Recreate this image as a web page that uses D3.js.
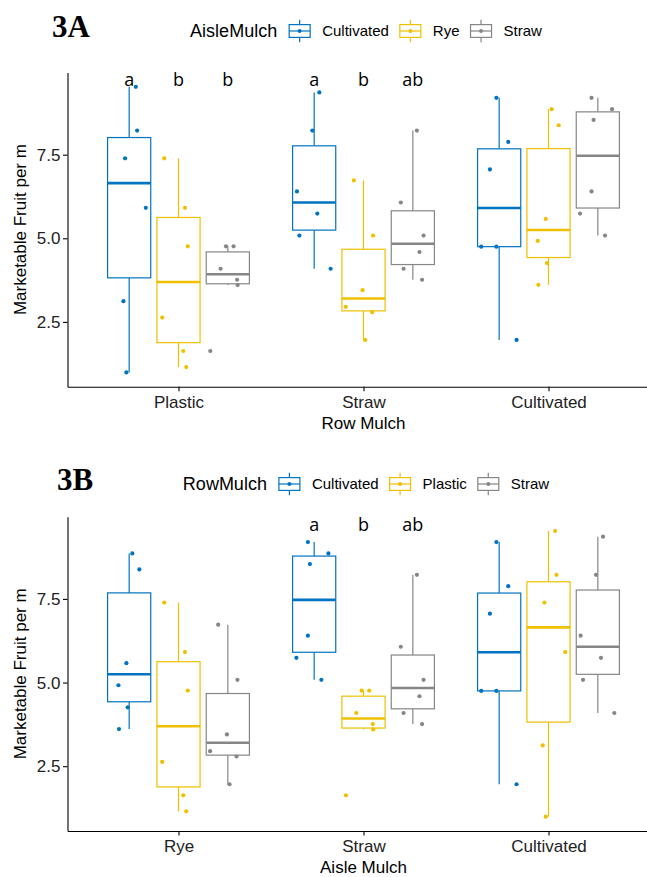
<!DOCTYPE html>
<html>
<head>
<meta charset="utf-8">
<script src="https://cdn.jsdelivr.net/npm/d3@7"></script>
<style>
body { margin: 0; background: #fff; }
text { font-family: "Liberation Sans", Arial, sans-serif; }
</style>
</head>
<body>
<div id="chart"></div>
<script>
var rowMulch = ["Plastic", "Straw", "Cultivated"];
var aisleMulch = ["Cultivated", "Rye", "Straw"];
var colors = ["#0073C2", "#EFC000", "#868686"];

// marketable fruit per m, 6 plots per combination, inner arrays follow aisleMulch order
var plasticFruit = [
    [9.53, 8.22, 7.39, 5.91, 3.12, 0.99],
    [7.39, 5.91, 4.76, 2.63, 1.63, 1.15],
    [4.76, 4.76, 4.09, 3.76, 3.60, 1.63]
];
var strawFruit = [
    [9.36, 8.22, 6.40, 5.74, 5.08, 4.09],
    [6.73, 5.08, 3.45, 2.95, 2.79, 1.96],
    [8.22, 6.07, 5.08, 4.59, 4.09, 3.76]
];
var cultivatedFruit = [
    [9.20, 7.88, 7.06, 4.75, 4.75, 1.96],
    [8.86, 8.38, 5.58, 4.92, 4.26, 3.61],
    [9.20, 8.86, 8.54, 6.40, 5.74, 5.08]
];

// horizontal jitter of every point, in category units (same for both plots)
var plasticJitter = [
    [0.036, 0.043, -0.022, 0.090, -0.031, -0.015],
    [-0.077, 0.035, 0.050, -0.088, 0.026, 0.042],
    [-0.010, 0.031, -0.039, 0.050, 0.053, -0.095]
];
var strawJitter = [
    [0.028, -0.010, -0.093, 0.017, -0.080, 0.089],
    [-0.052, 0.052, -0.005, -0.096, 0.047, 0.009],
    [0.022, -0.065, 0.058, 0.036, -0.050, 0.050]
];
var cultivatedJitter = [
    [-0.015, 0.049, -0.050, -0.097, -0.015, 0.094],
    [0.017, 0.055, -0.015, -0.058, -0.008, -0.055],
    [-0.034, 0.077, -0.023, -0.034, -0.096, 0.039]
];

var yTicks = [2.5, 5.0, 7.5];
var letterLevel = 9.73;
// letters per [x category][fill group]
var lettersA = [["a", "b", "b"], ["a", "b", "ab"], ["", "", ""]];
var lettersB = [["", "", ""], ["a", "b", "ab"], ["", "", ""]];

var width = 647;
var height = 877;

var fruitByRow = [plasticFruit, strawFruit, cultivatedFruit];
var jitterByRow = [plasticJitter, strawJitter, cultivatedJitter];
var obs = [];
rowMulch.forEach(function (r, i) {
    aisleMulch.forEach(function (a, j) {
        fruitByRow[i][j].forEach(function (v, k) {
            obs.push({row: r, aisle: a, value: v, jit: jitterByRow[i][j][k]});
        });
    });
});

var panels = [
    {tag: "3A", xKey: "row", xCats: ["Plastic", "Straw", "Cultivated"],
     gKey: "aisle", gCats: ["Cultivated", "Rye", "Straw"], legend: "AisleMulch",
     xTitle: "Row Mulch", letters: lettersA, top: 72.5, bottom: 386.7,
     tagX: 52, tagY: 37, legendY: 31},
    {tag: "3B", xKey: "aisle", xCats: ["Rye", "Straw", "Cultivated"],
     gKey: "row", gCats: ["Cultivated", "Plastic", "Straw"], legend: "RowMulch",
     xTitle: "Aisle Mulch", letters: lettersB, top: 516.7, bottom: 831,
     tagX: 57, tagY: 490, legendY: 484}
];

var left = 67.5;
var dodge = 0.8 / 3;
var boxW = 0.7 / 3;

var svg = d3.select("#chart").append("svg")
    .attr("width", width)
    .attr("height", height);

var x = d3.scaleLinear().domain([0.4, 3.6]).range([left, left + 3.2 * 185]);

var ext = d3.extent(obs, function (d) { return d.value; });
var pad = 0.05 * (ext[1] - ext[0]);

function boxStats(vals) {
    var s = vals.slice().sort(d3.ascending);
    var q1 = d3.quantile(s, 0.25), med = d3.quantile(s, 0.5), q3 = d3.quantile(s, 0.75);
    var iqr = q3 - q1;
    var lo = d3.min(s.filter(function (v) { return v >= q1 - 1.5 * iqr; }));
    var hi = d3.max(s.filter(function (v) { return v <= q3 + 1.5 * iqr; }));
    return {q1: q1, med: med, q3: q3, lo: lo, hi: hi};
}

panels.forEach(function (p) {
    var y = d3.scaleLinear().domain([ext[0] - pad, ext[1] + pad]).range([p.bottom, p.top]);
    var g = svg.append("g");

    // build one box per x category / fill group
    var boxes = [];
    p.xCats.forEach(function (xc, i) {
        p.gCats.forEach(function (gc, j) {
            var vals = obs.filter(function (d) { return d[p.xKey] === xc && d[p.gKey] === gc; })
                .map(function (d) { return d.value; });
            var b = boxStats(vals);
            b.cx = i + 1 + (j - 1) * dodge;
            b.color = colors[j];
            b.letter = p.letters[i][j];
            boxes.push(b);
        });
    });

    var bx = g.selectAll("g.box").data(boxes).enter().append("g").attr("class", "box");
    bx.append("line")
        .attr("x1", function (d) { return x(d.cx); })
        .attr("x2", function (d) { return x(d.cx); })
        .attr("y1", function (d) { return y(d.q3); })
        .attr("y2", function (d) { return y(d.hi); })
        .attr("stroke", function (d) { return d.color; })
        .attr("stroke-width", 1.2);
    bx.append("line")
        .attr("x1", function (d) { return x(d.cx); })
        .attr("x2", function (d) { return x(d.cx); })
        .attr("y1", function (d) { return y(d.q1); })
        .attr("y2", function (d) { return y(d.lo); })
        .attr("stroke", function (d) { return d.color; })
        .attr("stroke-width", 1.2);
    bx.append("rect")
        .attr("x", function (d) { return x(d.cx - boxW / 2); })
        .attr("width", function (d) { return x(d.cx + boxW / 2) - x(d.cx - boxW / 2); })
        .attr("y", function (d) { return y(d.q3); })
        .attr("height", function (d) { return y(d.q1) - y(d.q3); })
        .attr("fill", "white")
        .attr("stroke", function (d) { return d.color; })
        .attr("stroke-width", 1.2);
    bx.append("line")
        .attr("x1", function (d) { return x(d.cx - boxW / 2); })
        .attr("x2", function (d) { return x(d.cx + boxW / 2); })
        .attr("y1", function (d) { return y(d.med); })
        .attr("y2", function (d) { return y(d.med); })
        .attr("stroke", function (d) { return d.color; })
        .attr("stroke-width", 2.6);

    // jittered points
    g.selectAll("circle.pt").data(obs).enter().append("circle")
        .attr("class", "pt")
        .attr("cx", function (d) {
            var i = p.xCats.indexOf(d[p.xKey]), j = p.gCats.indexOf(d[p.gKey]);
            return x(i + 1 + (j - 1) * dodge + d.jit);
        })
        .attr("cy", function (d) { return y(d.value); })
        .attr("r", 2.1)
        .attr("fill", function (d) { return colors[p.gCats.indexOf(d[p.gKey])]; });

    // letters
    g.selectAll("text.letter").data(boxes.filter(function (d) { return d.letter; })).enter()
        .append("text")
        .attr("x", function (d) { return x(d.cx); })
        .attr("y", y(letterLevel))
        .attr("dy", "0.35em")
        .attr("text-anchor", "middle")
        .style("font-family", "'Open Sans', sans-serif")
        .style("font-size", "18px")
        .text(function (d) { return d.letter; });

    // axes
    var yAxis = g.append("g")
        .attr("transform", "translate(" + left + ",0)")
        .call(d3.axisLeft(y).tickValues(yTicks).tickFormat(d3.format(".1f")).tickSize(4.5).tickSizeOuter(0));
    var xAxis = g.append("g")
        .attr("transform", "translate(0," + p.bottom + ")")
        .call(d3.axisBottom(x).tickValues([1, 2, 3]).tickFormat(function (i) { return p.xCats[i - 1]; })
            .tickSize(4.5).tickSizeOuter(0));
    [yAxis, xAxis].forEach(function (a) {
        a.select(".domain").attr("stroke", "black").attr("stroke-width", 1.1);
        a.selectAll(".tick line").attr("stroke", "black").attr("stroke-width", 1.1);
        a.selectAll(".tick text").attr("fill", "#222")
            .style("font-family", "'Liberation Sans', Arial, sans-serif").style("font-size", "17px");
    });
    yAxis.selectAll(".tick text").attr("x", -7);
    xAxis.selectAll(".tick text").attr("y", 9);

    g.append("text")
        .attr("transform", "translate(26," + (p.top + p.bottom) / 2 + ") rotate(-90)")
        .attr("text-anchor", "middle")
        .style("font-size", "17px")
        .text("Marketable Fruit per m");
    g.append("text")
        .attr("x", x(2))
        .attr("y", p.bottom + 42)
        .attr("text-anchor", "middle")
        .style("font-size", "17px")
        .text(p.xTitle);

    // tag
    g.append("text")
        .attr("x", p.tagX)
        .attr("y", p.tagY)
        .style("font-family", "'Liberation Serif', 'Times New Roman', serif")
        .style("font-weight", "bold")
        .style("font-size", "31px")
        .text(p.tag);

    // legend
    var lg = g.append("g");
    var title = lg.append("text")
        .attr("y", p.legendY)
        .attr("dy", "0.35em")
        .style("font-size", "18px")
        .text(p.legend);
    var cx = title.node().getComputedTextLength() + 12;
    p.gCats.forEach(function (c, j) {
        var k = lg.append("g").attr("transform", "translate(" + cx + "," + p.legendY + ")");
        k.append("line").attr("x1", 10.5).attr("x2", 10.5).attr("y1", -11.3).attr("y2", 11.3)
            .attr("stroke", colors[j]).attr("stroke-width", 1.2);
        k.append("rect").attr("x", 0).attr("y", -6.4).attr("width", 21).attr("height", 12.8)
            .attr("fill", "white").attr("stroke", colors[j]).attr("stroke-width", 1.2);
        k.append("line").attr("x1", 0).attr("x2", 21).attr("y1", 0).attr("y2", 0)
            .attr("stroke", colors[j]).attr("stroke-width", 1.2);
        k.append("circle").attr("cx", 10.5).attr("cy", 0).attr("r", 2).attr("fill", colors[j]);
        var t = lg.append("text")
            .attr("x", cx + 33)
            .attr("y", p.legendY)
            .attr("dy", "0.35em")
            .style("font-size", "15px")
            .text(c);
        cx += 33 + t.node().getComputedTextLength() + 11;
    });
    var total = cx - 11;
    lg.attr("transform", "translate(" + (366 - total / 2) + ",0)");
});
</script>
</body>
</html>
